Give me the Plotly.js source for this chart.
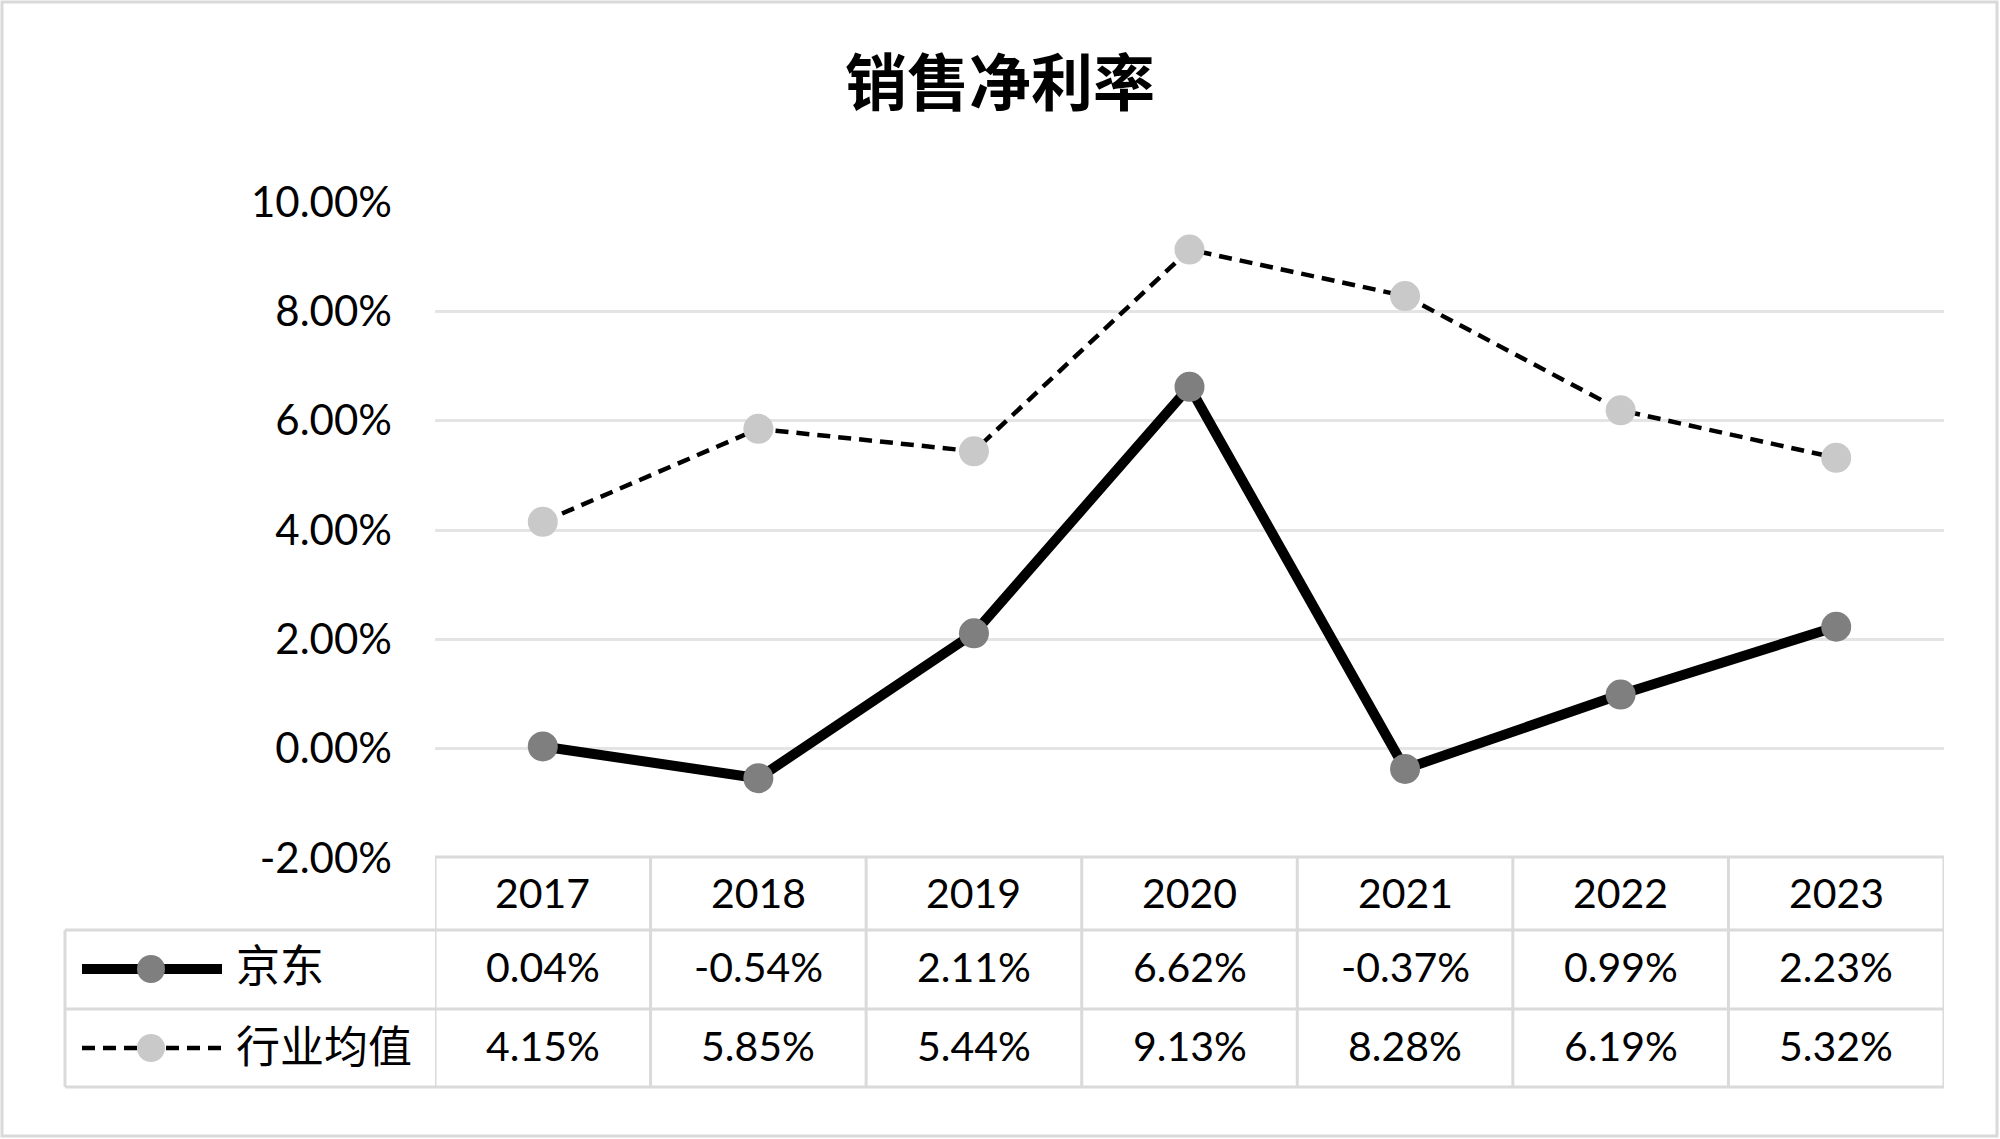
<!DOCTYPE html>
<html>
<head>
<meta charset="utf-8">
<script src="https://cdn.plot.ly/plotly-3.0.1.min.js"></script>
<style>
html,body{margin:0;padding:0;background:#fff;}
#chart{width:2000px;height:1139px;}
</style>
</head>
<body>
<div id="chart"></div>
<script>
// ---- data ----
const years = ['2017','2018','2019','2020','2021','2022','2023'];
const jdName = '京东';
const jdValues = [0.04, -0.54, 2.11, 6.62, -0.37, 0.99, 2.23];
const indName = '行业均值';
const indValues = [4.15, 5.85, 5.44, 9.13, 8.28, 6.19, 5.32];
const yTickVals = [-2, 0, 2, 4, 6, 8, 10];
const chartTitle = '销售净利率';

// ---- layout geometry (pixels) ----
const W = 2000, H = 1139;
const L = 435, R = 1944, T = 202, B = 858;
const PW = R - L, PH = B - T;
const px2x = p => (p - L) / PW;          // pixel x -> paper x
const px2y = p => (B - p) / PH;          // pixel y -> paper y

const numFont = 'Lato, "Noto Sans CJK SC", sans-serif';
const cjkFont = '"Noto Sans CJK SC", sans-serif';
const lineGray = '#dadada';
const idx = years.map((_, i) => i);
const fmt = v => v.toFixed(2) + '%';

const traces = [
  {
    x: idx, y: jdValues, name: jdName, type: 'scatter', mode: 'lines+markers',
    line: {color: '#000000', width: 10},
    marker: {color: '#7f7f7f', size: 30},
    cliponaxis: false, hoverinfo: 'skip'
  },
  {
    x: idx, y: indValues, name: indName, type: 'scatter', mode: 'lines+markers',
    line: {color: '#000000', width: 4.5, dash: '13px,8px'},
    marker: {color: '#c9c9c9', size: 30},
    cliponaxis: false, hoverinfo: 'skip'
  }
];

const shapes = [];
const annotations = [];

// outer chart border
shapes.push({type: 'rect', xref: 'paper', yref: 'paper',
  x0: px2x(2), x1: px2x(1997), y0: px2y(1136), y1: px2y(2),
  line: {color: '#d9d9d9', width: 3}, fillcolor: 'rgba(0,0,0,0)', layer: 'below'});

// data table grid
const rowY = [857, 930, 1009, 1087];
const rowCenters = [892, 966, 1045];
const tableLeft = 65;
shapes.push({type: 'line', xref: 'x', yref: 'paper', x0: -0.5, x1: years.length - 0.5,
  y0: px2y(rowY[0]), y1: px2y(rowY[0]), line: {color: lineGray, width: 3}});
for (let k = 1; k < rowY.length; k++) {
  shapes.push({type: 'line', xref: 'paper', yref: 'paper', x0: px2x(tableLeft), x1: 1,
    y0: px2y(rowY[k]), y1: px2y(rowY[k]), line: {color: lineGray, width: 3}});
}
shapes.push({type: 'line', xref: 'paper', yref: 'paper', x0: px2x(tableLeft), x1: px2x(tableLeft),
  y0: px2y(rowY[1]), y1: px2y(rowY[3]), line: {color: lineGray, width: 3}});
for (let k = 0; k <= years.length; k++) {
  shapes.push({type: 'line', xref: 'x', yref: 'paper', x0: k - 0.5, x1: k - 0.5,
    y0: px2y(rowY[0]), y1: px2y(rowY[3]), line: {color: lineGray, width: 3}});
}

// table text
years.forEach((yr, i) => {
  annotations.push({x: i, y: px2y(rowCenters[0]), xref: 'x', yref: 'paper', text: yr,
    showarrow: false, font: {family: numFont, size: 41, color: '#000'}, xanchor: 'center', yanchor: 'middle'});
  annotations.push({x: i, y: px2y(rowCenters[1]), xref: 'x', yref: 'paper', text: fmt(jdValues[i]),
    showarrow: false, font: {family: numFont, size: 41, color: '#000'}, xanchor: 'center', yanchor: 'middle'});
  annotations.push({x: i, y: px2y(rowCenters[2]), xref: 'x', yref: 'paper', text: fmt(indValues[i]),
    showarrow: false, font: {family: numFont, size: 41, color: '#000'}, xanchor: 'center', yanchor: 'middle'});
});

// legend keys inside table
const keyRows = [969, 1048];
const keyX0 = 82, keyX1 = 222, keyM = 151;
shapes.push({type: 'line', xref: 'paper', yref: 'paper', x0: px2x(keyX0), x1: px2x(keyX1),
  y0: px2y(keyRows[0]), y1: px2y(keyRows[0]), line: {color: '#000', width: 10}});
shapes.push({type: 'circle', xref: 'paper', yref: 'paper', xsizemode: 'pixel', ysizemode: 'pixel',
  xanchor: px2x(keyM), yanchor: px2y(keyRows[0]), x0: -14, x1: 14, y0: -14, y1: 14,
  fillcolor: '#7f7f7f', line: {width: 0}});
shapes.push({type: 'line', xref: 'paper', yref: 'paper', x0: px2x(keyX0), x1: px2x(keyX1),
  y0: px2y(keyRows[1]), y1: px2y(keyRows[1]), line: {color: '#000', width: 4.5, dash: '13px,8px'}});
shapes.push({type: 'circle', xref: 'paper', yref: 'paper', xsizemode: 'pixel', ysizemode: 'pixel',
  xanchor: px2x(keyM), yanchor: px2y(keyRows[1]), x0: -14, x1: 14, y0: -14, y1: 14,
  fillcolor: '#c9c9c9', line: {width: 0}});
annotations.push({x: px2x(234), y: px2y(keyRows[0] - 6), xref: 'paper', yref: 'paper', text: jdName,
  showarrow: false, font: {family: cjkFont, size: 44, color: '#000'}, xanchor: 'left', yanchor: 'middle'});
annotations.push({x: px2x(234), y: px2y(keyRows[1] - 4), xref: 'paper', yref: 'paper', text: indName,
  showarrow: false, font: {family: cjkFont, size: 44, color: '#000'}, xanchor: 'left', yanchor: 'middle'});

const layout = {
  width: W, height: H,
  paper_bgcolor: '#ffffff', plot_bgcolor: '#ffffff',
  margin: {l: L, r: W - R, t: T, b: H - B, pad: 0},
  showlegend: false,
  title: {text: '<b>' + chartTitle + '</b>', x: 0.5, xref: 'container', xanchor: 'center',
    y: 1 - 84 / H, yref: 'container', yanchor: 'middle',
    font: {family: cjkFont, size: 62, color: '#000'}},
  xaxis: {range: [-0.5, years.length - 0.5], showticklabels: false, showgrid: false,
    zeroline: false, showline: false, ticks: '', fixedrange: true},
  yaxis: {range: [-2, 10], tickmode: 'array', tickvals: yTickVals, ticktext: yTickVals.map(fmt),
    showgrid: true, gridcolor: '#e4e4e4', gridwidth: 3, zeroline: false, showline: false,
    ticks: '', ticklabelstandoff: 42,
    tickfont: {family: numFont, size: 42, color: '#000'}, fixedrange: true},
  shapes: shapes,
  annotations: annotations
};

Plotly.newPlot('chart', traces, layout, {displayModeBar: false, staticPlot: true});
</script>
</body>
</html>
